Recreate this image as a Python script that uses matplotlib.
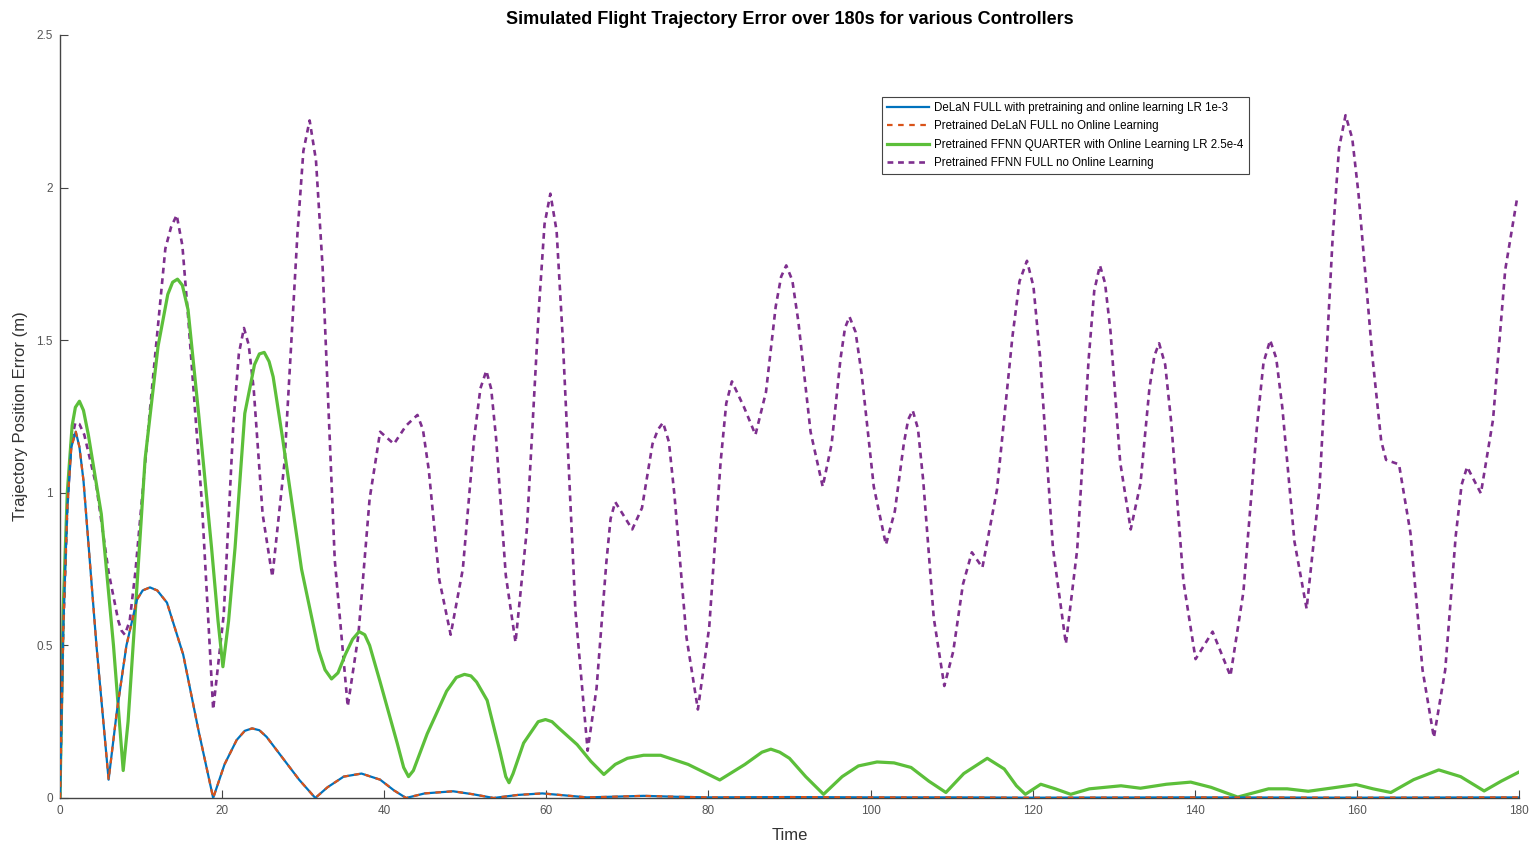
import matplotlib
matplotlib.use("Agg")
import matplotlib.pyplot as plt

# ---------------- data ----------------
title = "Simulated Flight Trajectory Error over 180s for various Controllers"
labels = [
    "DeLaN FULL with pretraining and online learning LR 1e-3",
    "Pretrained DeLaN FULL no Online Learning",
    "Pretrained FFNN QUARTER with Online Learning LR 2.5e-4",
    "Pretrained FFNN FULL no Online Learning",
]
x_ticks = [0, 20, 40, 60, 80, 100, 120, 140, 160, 180]
y_ticks = [0, 0.5, 1, 1.5, 2, 2.5]
y_tick_labels = ['0', '0.5', '1', '1.5', '2', '2.5']

delan_t = [0, 0.4, 0.9, 1.4, 1.95, 2.4, 2.9, 4.5, 6.0, 7.0, 8.2, 9.5, 10.2, 11.1,
           12.0, 13.2, 15.2, 17.1, 18.9, 20.3, 21.8, 22.8, 23.7, 24.6, 25.5, 27.5,
           29.5, 31.5, 33.0, 35.0, 37.2, 39.5, 41.2, 42.7, 45.0, 48.5, 51.0, 53.5,
           56.5, 59.5, 62.5, 65.0, 68.0, 72.0, 76.0, 80.0, 90.0, 100.0, 110.0,
           120.0, 140.0, 160.0, 180.0]
delan_y = [0, 0.55, 0.95, 1.15, 1.20, 1.15, 1.04, 0.50, 0.06, 0.28, 0.50, 0.65,
           0.68, 0.69, 0.68, 0.64, 0.47, 0.22, 0.0, 0.11, 0.19, 0.22, 0.228, 0.222,
           0.20, 0.13, 0.06, 0.0, 0.035, 0.07, 0.08, 0.06, 0.025, 0.0, 0.015,
           0.022, 0.012, 0.0, 0.01, 0.015, 0.008, 0.002, 0.004, 0.007, 0.004,
           0.002, 0.003, 0.002, 0.002, 0.001, 0.002, 0.001, 0.002]

# Pretrained DeLaN (overlaps the online DeLaN curve)
delan_pre_t = delan_t
delan_pre_y = delan_y

ffnnq_t = [0, 0.4, 0.9, 1.5, 1.9, 2.4, 2.9, 3.5, 5.1, 6.6, 7.8, 8.4, 9.1, 10.5,
           12.1, 13.3, 13.9, 14.5, 15.1, 15.8, 17.1, 18.7, 19.5, 20.1, 20.8, 21.6,
           22.8, 24.0, 24.6, 25.2, 25.8, 26.3, 27.4, 29.8, 31.9, 32.7, 33.5, 34.3,
           35.2, 36.1, 36.9, 37.6, 38.2, 39.5, 41.6, 42.4, 43.0, 43.6, 45.3, 47.7,
           48.9, 49.9, 50.7, 51.4, 52.7, 54.3, 55.0, 55.4, 55.9, 57.2, 59.0, 59.9,
           60.7, 61.5, 63.8, 65.5, 67.1, 68.5, 70.0, 72.0, 74.1, 77.5, 81.4, 84.5,
           86.6, 87.7, 88.8, 90.0, 92.0, 94.2, 96.5, 98.5, 100.8, 102.9, 105.0,
           107.2, 109.3, 111.5, 114.4, 116.5, 118.0, 119.1, 121.0, 122.8, 124.7,
           127.0, 130.9, 133.3, 136.5, 139.5, 142.0, 145.3, 149.1, 151.4, 154.0,
           157.0, 159.9, 162.0, 164.2, 167.0, 170.1, 172.8, 175.7, 177.8, 180.0]
ffnnq_y = [0, 0.62, 1.00, 1.22, 1.28, 1.30, 1.27, 1.19, 0.93, 0.50, 0.09, 0.25,
           0.53, 1.11, 1.48, 1.65, 1.69, 1.70, 1.68, 1.60, 1.26, 0.82, 0.58, 0.43,
           0.58, 0.82, 1.26, 1.42, 1.455, 1.46, 1.43, 1.38, 1.19, 0.75, 0.485,
           0.42, 0.39, 0.41, 0.47, 0.52, 0.545, 0.535, 0.50, 0.38, 0.18, 0.10,
           0.07, 0.09, 0.21, 0.35, 0.395, 0.405, 0.40, 0.38, 0.32, 0.15, 0.07,
           0.05, 0.08, 0.18, 0.25, 0.257, 0.25, 0.23, 0.175, 0.12, 0.077, 0.11,
           0.13, 0.14, 0.14, 0.11, 0.059, 0.11, 0.15, 0.16, 0.15, 0.13, 0.07,
           0.012, 0.07, 0.105, 0.118, 0.115, 0.10, 0.055, 0.018, 0.08, 0.13,
           0.095, 0.04, 0.012, 0.045, 0.03, 0.012, 0.03, 0.04, 0.032, 0.045,
           0.052, 0.035, 0.003, 0.03, 0.03, 0.022, 0.033, 0.044, 0.03, 0.018,
           0.06, 0.092, 0.07, 0.023, 0.055, 0.085]

ffnnf_t = [0, 0.4, 0.9, 1.4, 1.9, 2.4, 3.0, 4.5, 6.0, 7.2, 7.6, 8.0, 8.6, 9.3, 11.2,
           13.0, 13.7, 14.4, 15.1, 15.8, 17.5, 18.4, 18.9, 20.2, 21.4, 22.07, 22.7,
           23.28, 23.9, 25.0, 26.2, 27.7, 29.3, 30.03, 30.8, 31.58, 32.4, 33.9,
           35.5, 36.8, 38.2, 39.5, 41.2, 42.7, 44.1, 44.78, 45.5, 46.8, 48.2, 49.7,
           51.1, 51.87, 52.6, 53.2, 53.8, 55.0, 56.2, 57.6, 59.1, 59.78, 60.5,
           61.27, 62.0, 63.6, 65.1, 66.2, 67.4, 67.93, 68.5, 70.6, 71.8, 73.1,
           73.77, 74.4, 75.12, 75.8, 77.3, 78.7, 80.1, 81.5, 82.2, 82.9, 84.4,
           85.8, 87.1, 88.3, 88.97, 89.6, 90.35, 91.1, 92.6, 94.1, 95.2, 96.3,
           96.85, 97.4, 98.15, 98.9, 100.4, 101.9, 103.0, 104.1, 104.65, 105.2,
           105.85, 106.5, 107.8, 109.1, 110.2, 111.4, 112.5, 113.8, 115.6, 117.5,
           118.38, 119.3, 120.1, 120.9, 122.5, 124.1, 125.5, 126.9, 127.6, 128.3,
           128.93, 129.6, 130.8, 132.1, 133.3, 134.4, 135.02, 135.6, 136.35,
           137.1, 138.6, 140.1, 142.2, 144.4, 146.0, 147.7, 148.48, 149.3, 150.05,
           150.8, 152.3, 153.8, 155.4, 157.0, 157.8, 158.6, 159.43, 160.2, 161.9,
           163.0, 163.6, 165.2, 166.6, 168.1, 169.5, 170.9, 172.2, 172.92, 173.6,
           175.3, 176.8, 178.3, 179.8]
ffnnf_y = [0, 0.55, 0.95, 1.17, 1.23, 1.225, 1.19, 1.02, 0.74, 0.58, 0.548, 0.535,
           0.58, 0.74, 1.30, 1.80, 1.87, 1.91, 1.81, 1.58, 0.97, 0.53, 0.29, 0.60,
           1.23, 1.456, 1.54, 1.485, 1.34, 0.93, 0.725, 1.10, 1.85, 2.12, 2.22,
           2.09, 1.74, 0.78, 0.30, 0.53, 0.98, 1.20, 1.16, 1.22, 1.255, 1.207,
           1.075, 0.715, 0.535, 0.75, 1.18, 1.342, 1.40, 1.34, 1.18, 0.73, 0.51,
           0.88, 1.61, 1.88, 1.98, 1.858, 1.52, 0.61, 0.155, 0.36, 0.77, 0.915,
           0.97, 0.88, 0.95, 1.16, 1.207, 1.23, 1.167, 0.995, 0.525, 0.29, 0.56,
           1.10, 1.293, 1.365, 1.28, 1.19, 1.33, 1.61, 1.708, 1.745, 1.696, 1.56,
           1.20, 1.02, 1.16, 1.44, 1.54, 1.577, 1.527, 1.39, 1.02, 0.83, 0.94,
           1.16, 1.24, 1.27, 1.21, 1.04, 0.59, 0.367, 0.48, 0.70, 0.805, 0.755,
           1.01, 1.51, 1.693, 1.76, 1.676, 1.45, 0.82, 0.505, 0.815, 1.435, 1.662,
           1.745, 1.687, 1.53, 1.10, 0.88, 1.03, 1.34, 1.449, 1.49, 1.42, 1.23,
           0.71, 0.455, 0.545, 0.40, 0.675, 1.225, 1.426, 1.50, 1.441, 1.28, 0.84,
           0.62, 1.02, 1.83, 2.129, 2.237, 2.161, 1.98, 1.45, 1.17, 1.108, 1.093,
           0.87, 0.42, 0.198, 0.42, 0.86, 1.026, 1.085, 0.998, 1.24, 1.73, 1.97]

# ---------------- figure ----------------
plt.rcParams['font.family'] = ['Liberation Sans', 'DejaVu Sans']
fig = plt.figure(figsize=(15.3, 8.43), dpi=100)
ax = fig.add_axes([0.0392, 0.0534, 0.9536, 0.9051])

ax.plot(delan_t, delan_y, color='#0072BD', lw=1.6, label=labels[0], zorder=3)
ax.plot(delan_pre_t, delan_pre_y, color='#D95319', lw=1.6, ls=(0, (2.5, 2.5)),
        label=labels[1], zorder=4)
ax.plot(ffnnq_t, ffnnq_y, color='#5CBF3A', lw=2.3, label=labels[2], zorder=2)
ax.plot(ffnnf_t, ffnnf_y, color='#7E2F8E', lw=1.9, ls=(0, (2.2, 1.8)),
        label=labels[3], zorder=1)

ax.set_xlim(0, 180)
ax.set_ylim(0, 2.5)
ax.set_xticks(x_ticks)
ax.set_xticklabels([str(v) for v in x_ticks])
ax.set_yticks(y_ticks)
ax.set_yticklabels(y_tick_labels)
for s in ['top', 'right']:
    ax.spines[s].set_visible(False)
for s in ['left', 'bottom']:
    ax.spines[s].set_color('#444444')
    ax.spines[s].set_linewidth(1.0)
ax.tick_params(direction='in', length=6, width=0.8, colors='#444444',
               labelcolor='#555555', labelsize=8.5, pad=5)

ax.set_xlabel('Time', fontsize=12, color='#333333', labelpad=8)
ax.set_ylabel('Trajectory Position Error (m)', fontsize=12, color='#333333',
              labelpad=6)
ax.set_title(title, fontsize=13, fontweight='bold', pad=8)

leg = ax.legend(loc='upper left', bbox_to_anchor=(0.5765, 0.885),
                bbox_transform=fig.transFigure, borderaxespad=0, fontsize=8.3,
                frameon=True, fancybox=False, edgecolor='#444444',
                framealpha=1, handlelength=3.6, borderpad=0.45,
                labelspacing=0.55, handletextpad=0.5)
leg.get_frame().set_linewidth(0.8)

fig.savefig('out.png', dpi=100)
